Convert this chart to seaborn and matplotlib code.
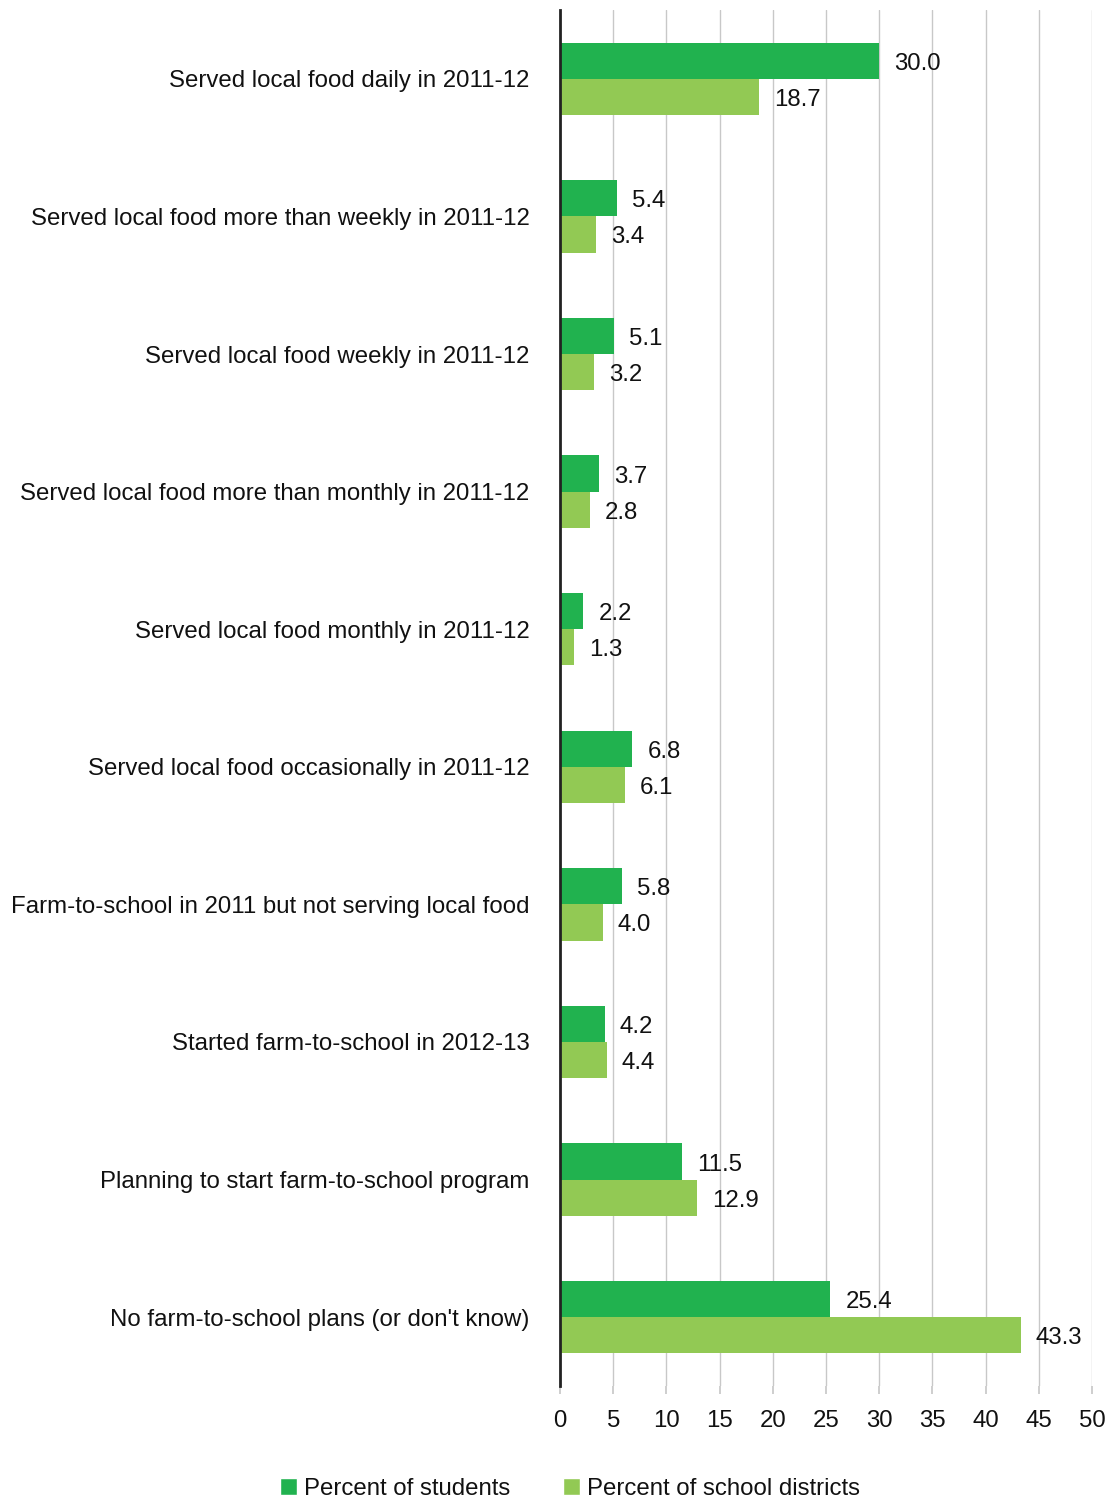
import matplotlib
matplotlib.use("Agg")
import matplotlib.pyplot as plt
import seaborn as sns
import pandas as pd
from matplotlib.patches import Patch

categories = [
    "Served local food daily in 2011-12",
    "Served local food more than weekly in 2011-12",
    "Served local food weekly in 2011-12",
    "Served local food more than monthly in 2011-12",
    "Served local food monthly in 2011-12",
    "Served local food occasionally in 2011-12",
    "Farm-to-school in 2011 but not serving local food",
    "Started farm-to-school in 2012-13",
    "Planning to start farm-to-school program",
    "No farm-to-school plans (or don't know)",
]
students = [30.0, 5.4, 5.1, 3.7, 2.2, 6.8, 5.8, 4.2, 11.5, 25.4]
districts = [18.7, 3.4, 3.2, 2.8, 1.3, 6.1, 4.0, 4.4, 12.9, 43.3]
series_names = ["Percent of students", "Percent of school districts"]
colors = ["#21B24F", "#92C954"]

df = pd.DataFrame({
    "category": categories * 2,
    "value": students + districts,
    "series": [series_names[0]] * len(categories) + [series_names[1]] * len(categories),
})

sns.set_theme(style="white")
plt.rcParams['font.family'] = ['Liberation Sans', 'DejaVu Sans']
plt.rcParams['text.color'] = '#111111'
plt.rcParams['xtick.color'] = '#111111'
plt.rcParams['ytick.color'] = '#111111'

FS = 17.3

fig = plt.figure(figsize=(11.1, 15), dpi=100)
ax = fig.add_axes([560/1110, 1 - 1386/1500, (1092-560)/1110, (1386-10)/1500])

sns.barplot(data=df, y="category", x="value", hue="series", orient="h",
            palette=colors, width=0.525, ax=ax, legend=False, saturation=1,
            order=categories, hue_order=series_names, linewidth=0, edgecolor="none")

ax.set_xlim(0, 50)
ax.set_ylim(9.5, -0.5)
ax.set_xticks(range(0, 51, 5))
ax.xaxis.grid(True, color="#c8c8c8", linewidth=1)
ax.set_axisbelow(True)
for s in ["top", "right", "bottom"]:
    ax.spines[s].set_visible(False)
ax.spines["left"].set_color("#222222")
ax.spines["left"].set_linewidth(2)
ax.set_xlabel("")
ax.set_ylabel("")
ax.tick_params(axis="x", length=6, color="#c8c8c8", labelcolor="#111111", labelsize=FS, pad=11, bottom=True)
ax.tick_params(axis="y", length=0, labelsize=FS, labelcolor="#111111", pad=22)

for cont in ax.containers:
    for bar in cont:
        w = bar.get_width()
        ax.annotate(f"{w:.1f}", (w, bar.get_y() + bar.get_height() / 2),
                    xytext=(15, -3), textcoords="offset pixels",
                    ha="left", va="center", fontsize=FS, color="#111111")

handles = [Patch(facecolor=c, label=n) for c, n in zip(colors, series_names)]
fig.legend(handles=handles, loc="center", bbox_to_anchor=(570/1110, 1 - 1489/1500),
           ncol=2, frameon=False, fontsize=FS, handlelength=0.7, handleheight=0.7,
           handletextpad=0.3, columnspacing=2.2)

fig.savefig("out.png", dpi=100)
